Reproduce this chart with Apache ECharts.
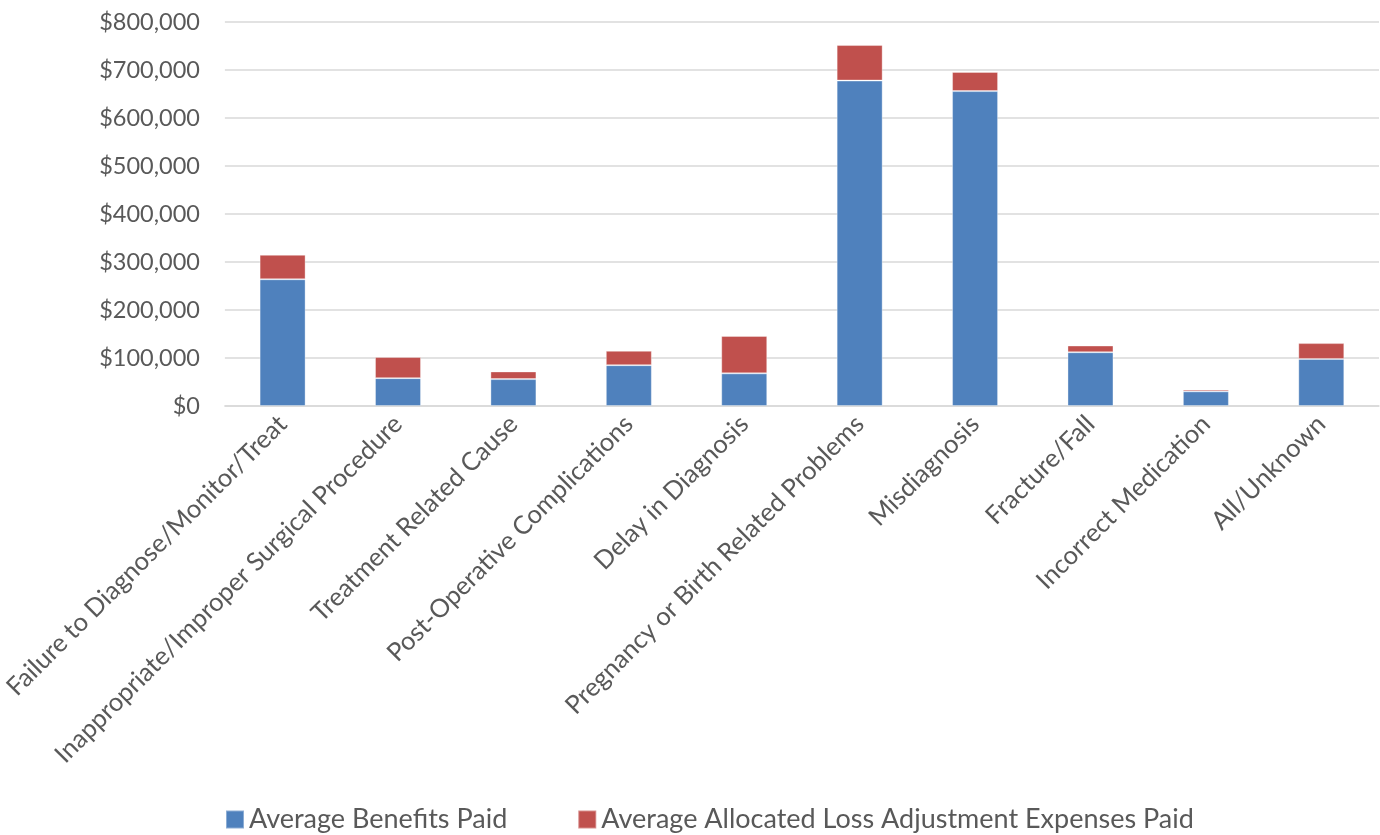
<!DOCTYPE html>
<html>
<head>
<meta charset="utf-8">
<script src="https://cdn.jsdelivr.net/npm/echarts@6/dist/echarts.min.js"></script>
<style>html,body{margin:0;padding:0;background:#fff;}#c{width:1380px;height:835px;}</style>
</head>
<body>
<div id="c"></div>
<script>
const categories = ["Failure to Diagnose/Monitor/Treat","Inappropriate/Improper Surgical Procedure","Treatment Related Cause","Post-Operative Complications","Delay in Diagnosis","Pregnancy or Birth Related Problems","Misdiagnosis","Fracture/Fall","Incorrect Medication","All/Unknown"];
const benefits = [264000, 58000, 56000, 85000, 68000, 678000, 656000, 112000, 30500, 98000];
const alae = [51000, 44000, 16000, 30000, 78000, 74000, 40000, 14000, 4000, 33000];
const seriesNames = ["Average Benefits Paid", "Average Allocated Loss Adjustment Expenses Paid"];

const chart = echarts.init(document.getElementById('c'));
const font = 'Lato, "Open Sans", sans-serif';
chart.setOption({
  animation: false,
  textStyle: {fontFamily: font},
  grid: {left: 222, right: 1, top: 22, bottom: 429, containLabel: false},
  legend: {
    bottom: -3, left: 220, itemGap: 70, itemWidth: 18, itemHeight: 18, icon: 'rect',
    textStyle: {fontSize: 27, color: '#595959', fontFamily: font},
    data: seriesNames
  },
  xAxis: {
    type: 'category', data: categories,
    axisLine: {show: true, lineStyle: {color: '#d9d9d9', width: 1.5}},
    axisTick: {show: false},
    axisLabel: {rotate: 45, interval: 0, fontSize: 25.5, color: '#595959', margin: 14, fontFamily: font}
  },
  yAxis: {
    type: 'value', min: 0, max: 800000, interval: 100000,
    axisLine: {show: false}, axisTick: {show: false},
    splitLine: {lineStyle: {color: '#d9d9d9', width: 1.5}},
    axisLabel: {fontSize: 23.5, color: '#595959', margin: 25, fontFamily: font,
      formatter: v => '$' + v.toLocaleString('en-US')}
  },
  series: [
    {name: seriesNames[0], type: 'bar', stack: 't', data: benefits, barWidth: 46,
     itemStyle: {color: '#4F81BD', borderColor: 'rgba(255,255,255,0.35)', borderWidth: 1}},
    {name: seriesNames[1], type: 'bar', stack: 't', data: alae, barWidth: 46,
     itemStyle: {color: '#C0504D', borderColor: 'rgba(255,255,255,0.35)', borderWidth: 1}}
  ]
});
</script>
</body>
</html>
